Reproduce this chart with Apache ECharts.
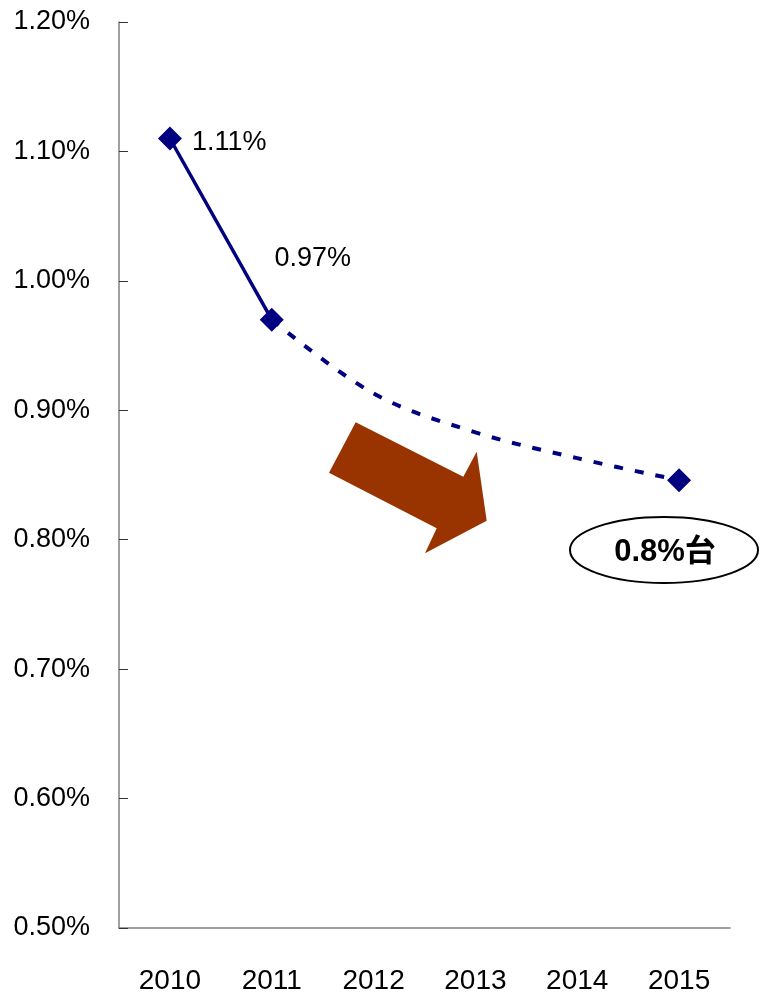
<!DOCTYPE html>
<html>
<head>
<meta charset="utf-8">
<style>
  html, body { margin: 0; padding: 0; background: #fff; }
  #chart { width: 760px; height: 995px; }
</style>
<script src="https://cdn.jsdelivr.net/npm/echarts@6/dist/echarts.min.js"></script>
</head>
<body>
<div id="chart"></div>
<script>
// Years on the category axis
const years = ['2010', '2011', '2012', '2013', '2014', '2015'];
// Actual values (%), solid line
const actual = [1.11, 0.97, null, null, null, null];
// Projected path (%), dashed line from 2011 to 2015
const projected = [null, 0.97, 0.913, 0.883, 0.863, 0.846];
// Value-axis range (%)
const yMin = 0.5, yMax = 1.2, yStep = 0.1;

const FONT = '"Liberation Sans", Arial, "Noto Sans CJK JP", sans-serif';
const NAVY = '#000080';

const chart = echarts.init(document.getElementById('chart'), null, { renderer: 'canvas' });

chart.setOption({
  backgroundColor: '#ffffff',
  animation: false,
  grid: { left: 119, right: 30, top: 22, bottom: 65, containLabel: false },
  xAxis: {
    type: 'category',
    data: years,
    boundaryGap: true,
    axisLine: { lineStyle: { color: '#808080', width: 1.5 } },
    axisTick: { inside: true, length: 11, alignWithLabel: false, lineStyle: { color: '#333', width: 1 } },
    axisLabel: { margin: 39, color: '#000', fontSize: 28, fontFamily: FONT },
    splitLine: { show: false }
  },
  yAxis: {
    type: 'value',
    min: yMin,
    max: yMax,
    interval: yStep,
    axisLine: { show: true, lineStyle: { color: '#808080', width: 1.5 } },
    axisTick: { show: true, inside: true, length: 9, lineStyle: { color: '#333', width: 1 } },
    axisLabel: {
      margin: 29, color: '#000', fontSize: 27, fontFamily: FONT,
      lineHeight: 36, verticalAlign: 'middle',
      formatter: v => v.toFixed(2) + '%'
    },
    splitLine: { show: false }
  },
  series: [
    {
      name: 'projected',
      type: 'line',
      data: projected.map((v, i) => i === projected.length - 1
        ? { value: v, symbol: 'diamond', symbolSize: 24 }
        : { value: v, symbol: 'none' }),
      smooth: 0.35,
      connectNulls: false,
      showAllSymbol: true,
      lineStyle: { color: NAVY, width: 4, type: [9, 12], cap: 'butt' },
      itemStyle: { color: NAVY },
      z: 2
    },
    {
      name: 'actual',
      type: 'line',
      data: actual.map((v, i) => {
        if (v === null) return null;
        const item = { value: v };
        item.label = i === 0
          ? { show: true, position: 'right', distance: 10, offset: [0, 4] }
          : { show: true, position: 'top', distance: 5, offset: [41, -31] };
        return item;
      }),
      symbol: 'diamond',
      symbolSize: 24,
      lineStyle: { color: NAVY, width: 3.5 },
      itemStyle: { color: NAVY },
      label: {
        color: '#000', fontSize: 27, fontFamily: FONT,
        formatter: p => p.value.toFixed(2) + '%'
      },
      z: 3
    }
  ],
  graphic: [
    {
      type: 'polygon',
      shape: {
        points: [[355.7, 422.3], [463.3, 476.7], [476.7, 451.7], [486.7, 520.7],
                 [425, 553.3], [436.7, 528.3], [329, 472.7]]
      },
      style: { fill: '#993300' },
      z: 1
    },
    {
      type: 'ellipse',
      shape: { cx: 664, cy: 550, rx: 94, ry: 33 },
      style: { fill: '#ffffff', stroke: '#000', lineWidth: 2 },
      z: 4
    },
    {
      type: 'text',
      x: 665, y: 552,
      style: {
        text: '0.8%台', fill: '#000', fontSize: 31, fontWeight: 'bold',
        fontFamily: FONT, align: 'center', verticalAlign: 'middle'
      },
      z: 5
    }
  ]
});
</script>
</body>
</html>
